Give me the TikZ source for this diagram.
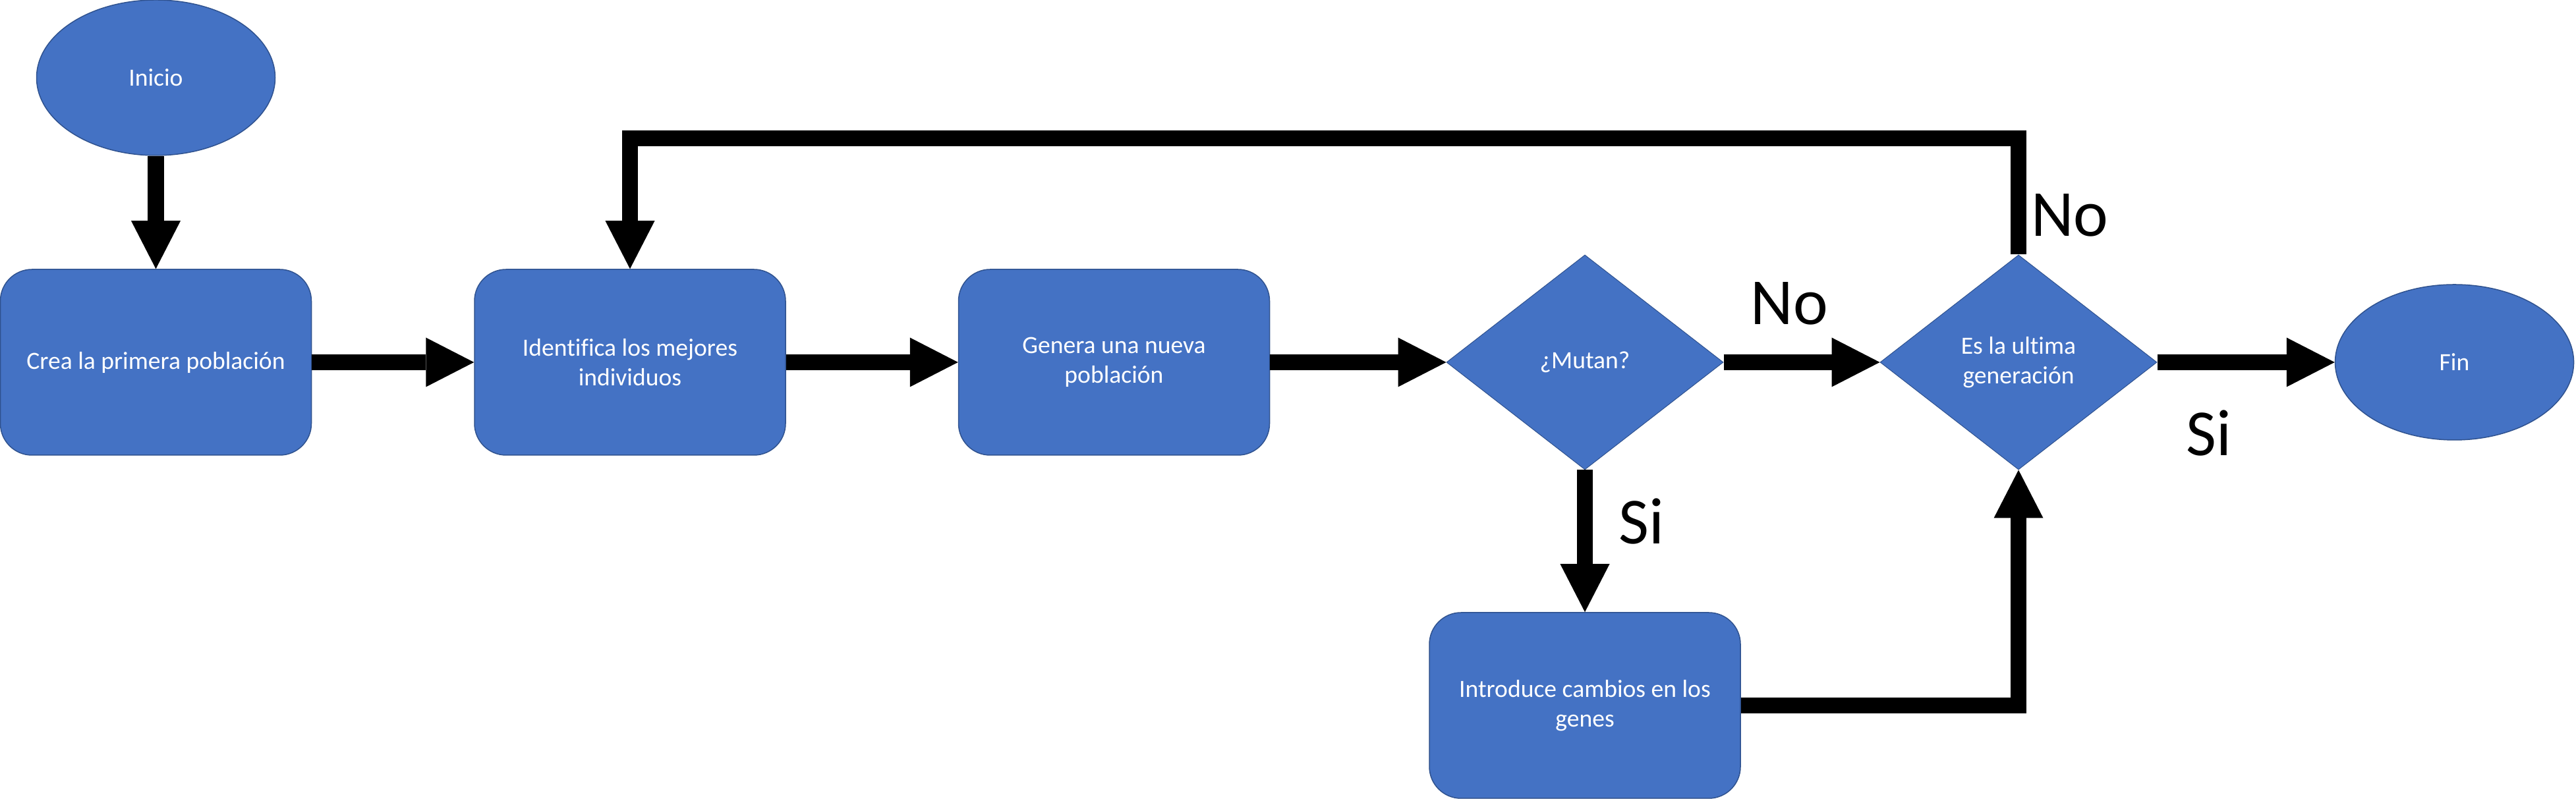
\documentclass[tikz,border=0pt]{standalone}
\usepackage{fontspec}
\setmainfont{Carlito}[Ligatures=NoCommon]
\usetikzlibrary{arrows.meta, positioning, shapes.geometric}
\definecolor{boxblue}{HTML}{4472C4}
\definecolor{edgeblue}{HTML}{2F528F}

\begin{document}
\begin{tikzpicture}[on grid, font=\fontsize{10.7}{12.8}\selectfont,
	terminal/.style={ellipse, fill=boxblue, draw=edgeblue, line width=0.015cm, text=white, minimum width=3.62cm, minimum height=2.36cm},
	process/.style={rectangle, rounded corners=0.48cm, fill=boxblue, draw=edgeblue, line width=0.015cm, text=white, align=center, minimum width=4.72cm, minimum height=2.82cm},
	decision/.style={diamond, fill=boxblue, draw=edgeblue, line width=0.01cm, text=white, align=center, inner sep=0pt, minimum width=4.2cm, minimum height=3.26cm},
	flow/.style={line width=0.245cm, -{Triangle[width=0.75cm, length=0.73cm, line width=0pt]}},
	answer/.style={font=\fontsize{28.4}{34}\selectfont, inner sep=2pt}]
	
	\useasboundingbox (0,0) rectangle (39.09,12.13);
	
	\node (crea) [process] at (2.365,6.63) {Crea la primera población};
	\node (inicio) [terminal, above=4.32cm of crea] {Inicio};
	\node (ident) [process, right=7.195cm of crea] {Identifica los mejores\\individuos};
	\node (genera) [process, right=7.345cm of ident] {Genera una nueva\\población};
	\node (mutan) [decision, right=7.145cm of genera] {¿Mutan?};
	\node (es) [decision, right=6.58cm of mutan] {Es la ultima\\generación};
	\node (fin) [terminal, right=6.615cm of es] {Fin};
	\node (intro) [process, below=5.21cm of mutan] {Introduce cambios en los\\genes};
	
	\coordinate (looptop) at (30.63,10.03);
	
	\path [flow]
	(inicio) edge (crea)
	(crea) edge (ident)
	(ident) edge (genera)
	(genera) edge (mutan)
	(mutan) edge node [answer, above=0.38cm, pos=0.42] {No} (es)
	(mutan) edge node [answer, right=0.32cm, pos=0.36] {Si} (intro)
	(es) edge node [answer, below=0.54cm, pos=0.29] {Si} (fin);
	
	\draw [flow] (es.north) -- node [answer, right, pos=0.34] {No} (es.north |- looptop) -| (ident.north);
	\draw [flow] (intro.east) -| (es.south);
\end{tikzpicture}
\end{document}
